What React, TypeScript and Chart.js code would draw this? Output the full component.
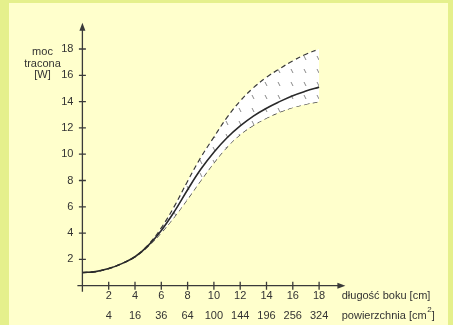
import React, { useEffect, useRef } from 'react';
import { Chart, registerables } from 'chart.js';

Chart.register(...registerables);

// ---- data ----
const sideLength = [0, 1, 2, 3, 4, 5, 6, 7, 8, 9, 10, 11, 12, 13, 14, 15, 16, 17, 18];
const centerPower = [1.0, 1.07, 1.3, 1.68, 2.2, 3.05, 4.2, 5.65, 7.3, 8.85, 10.15, 11.25, 12.15, 12.9, 13.5, 14.0, 14.45, 14.8, 15.1];
const upperPower = [1.0, 1.07, 1.3, 1.68, 2.2, 3.1, 4.4, 6.05, 7.95, 9.75, 11.3, 12.8, 14.05, 15.05, 15.85, 16.5, 17.1, 17.6, 18.0];
const lowerPower = [1.0, 1.07, 1.3, 1.68, 2.2, 3.0, 4.05, 5.25, 6.6, 8.0, 9.35, 10.55, 11.5, 12.2, 12.75, 13.2, 13.55, 13.8, 14.0];

const lengthTicks = [2, 4, 6, 8, 10, 12, 14, 16, 18];
const areaTickLabels = ['4', '16', '36', '64', '100', '144', '196', '256', '324'];
const powerTicks = [2, 4, 6, 8, 10, 12, 14, 16, 18];

const yTitleLines = ['moc', 'tracona', '[W]'];
const xTitle = 'długość boku [cm]';
const x2TitleMain = 'powierzchnia [cm';
const x2TitleSup = '2';
const x2TitleEnd = ']';

const FAMILY = '"Liberation Sans", Arial, Helvetica, sans-serif';
const TEXT = '#333333';
const AXIS = '#3a3a3a';

function makePattern(): CanvasPattern | string {
  const pc = document.createElement('canvas');
  pc.width = 13;
  pc.height = 13;
  const c = pc.getContext('2d');
  if (!c) return '#ffffff';
  c.fillStyle = '#ffffff';
  c.fillRect(0, 0, 13, 13);
  c.strokeStyle = '#8a8a8a';
  c.lineWidth = 1;
  c.beginPath();
  c.moveTo(5, 4);
  c.lineTo(7, 8);
  c.stroke();
  const p = c.createPattern(pc, 'repeat');
  return p || '#ffffff';
}

const axesPlugin = {
  id: 'customAxes',
  beforeDatasetsDraw(chart: any) {
    const { ctx, scales } = chart;
    const x = scales.x;
    const y = scales.y;
    const x0 = x.getPixelForValue(0);
    const y0 = y.getPixelForValue(0);
    const xEnd = x.getPixelForValue(20);
    const yEnd = y.getPixelForValue(20);
    ctx.save();
    ctx.strokeStyle = AXIS;
    ctx.fillStyle = AXIS;
    ctx.lineWidth = 1.3;
    ctx.beginPath();
    ctx.moveTo(x0, y0 + 6);
    ctx.lineTo(x0, yEnd + 6);
    ctx.moveTo(x0 - 5, y0);
    ctx.lineTo(xEnd - 6, y0);
    lengthTicks.forEach((v) => {
      const px = x.getPixelForValue(v);
      ctx.moveTo(px, y0 - 4);
      ctx.lineTo(px, y0 + 4);
    });
    powerTicks.forEach((v) => {
      const py = y.getPixelForValue(v);
      ctx.moveTo(x0 - 3.5, py);
      ctx.lineTo(x0 + 3.5, py);
    });
    ctx.stroke();
    ctx.beginPath();
    ctx.moveTo(x0, yEnd);
    ctx.lineTo(x0 - 3, yEnd + 8);
    ctx.lineTo(x0 + 3, yEnd + 8);
    ctx.closePath();
    ctx.fill();
    ctx.beginPath();
    ctx.moveTo(xEnd, y0);
    ctx.lineTo(xEnd - 8, y0 - 3);
    ctx.lineTo(xEnd - 8, y0 + 3);
    ctx.closePath();
    ctx.fill();

    // titles
    ctx.fillStyle = TEXT;
    ctx.font = '11px ' + FAMILY;
    ctx.textBaseline = 'middle';
    ctx.textAlign = 'center';
    const y18 = y.getPixelForValue(18);
    yTitleLines.forEach((t, i) => {
      ctx.fillText(t, 42.5, y18 + 3 + i * 11.6);
    });
    ctx.textAlign = 'left';
    const tx = xEnd - 3.7;
    ctx.fillText(xTitle, tx, y0 + 10.6);
    ctx.fillText(x2TitleMain, tx, y0 + 30.5);
    const w = ctx.measureText(x2TitleMain).width;
    ctx.font = '8px ' + FAMILY;
    ctx.fillText(x2TitleSup, tx + w + 0.5, y0 + 24.5);
    const w2 = ctx.measureText(x2TitleSup).width;
    ctx.font = '11px ' + FAMILY;
    ctx.fillText(x2TitleEnd, tx + w + w2 + 0.5, y0 + 30.5);
    ctx.restore();
  },
};

export default function App() {
  const ref = useRef<HTMLCanvasElement>(null);

  useEffect(() => {
    document.body.style.margin = '0';
    const canvas = ref.current;
    if (!canvas) return;
    const pattern = makePattern();
    const toPts = (arr: number[]) => sideLength.map((s, i) => ({ x: s, y: arr[i] }));
    const tickFont = { family: FAMILY, size: 11 };
    const chart = new Chart(canvas, {
      type: 'line',
      data: {
        datasets: [
          {
            label: 'moc tracona',
            data: toPts(centerPower),
            borderColor: '#2a2a2a',
            borderWidth: 1.6,
            pointRadius: 0,
            tension: 0.4,
            fill: false,
          },
          {
            label: 'max',
            data: toPts(upperPower),
            borderColor: '#3a3a3a',
            borderWidth: 1.2,
            borderDash: [5, 3.5],
            pointRadius: 0,
            tension: 0.4,
            fill: '+1',
            backgroundColor: pattern as any,
          },
          {
            label: 'min',
            data: toPts(lowerPower),
            borderColor: '#3a3a3a',
            borderWidth: 1.2,
            borderDash: [5, 3.5],
            pointRadius: 0,
            tension: 0.4,
            fill: false,
          },
        ],
      },
      options: {
        animation: false,
        responsive: false,
        devicePixelRatio: 1,
        layout: { padding: { left: 0, top: 22.7, right: 107.6, bottom: 0 } },
        plugins: { legend: { display: false }, tooltip: { enabled: false } },
        scales: {
          x: {
            type: 'linear',
            position: 'bottom',
            weight: 0,
            min: 0,
            max: 20,
            grid: { display: false, drawTicks: false },
            border: { display: false },
            afterBuildTicks: (s: any) => {
              s.ticks = lengthTicks.map((v) => ({ value: v }));
            },
            afterFit: (s: any) => {
              s.height = 20;
            },
            ticks: {
              autoSkip: false,
              maxRotation: 0,
              padding: 4,
              color: TEXT,
              font: tickFont,
              callback: (v: any) => String(v),
            },
          },
          x2: {
            type: 'linear',
            position: 'bottom',
            weight: 1,
            min: 0,
            max: 20,
            grid: { display: false, drawTicks: false },
            border: { display: false },
            afterBuildTicks: (s: any) => {
              s.ticks = lengthTicks.map((v) => ({ value: v }));
            },
            afterFit: (s: any) => {
              s.height = 19.3;
            },
            ticks: {
              autoSkip: false,
              maxRotation: 0,
              padding: 3.7,
              color: TEXT,
              font: tickFont,
              callback: (v: any) => {
                const i = lengthTicks.indexOf(Number(v));
                return i >= 0 ? areaTickLabels[i] : '';
              },
            },
          },
          y: {
            type: 'linear',
            min: 0,
            max: 20,
            grid: { display: false, drawTicks: false },
            border: { display: false },
            afterBuildTicks: (s: any) => {
              s.ticks = powerTicks.map((v) => ({ value: v }));
            },
            afterFit: (s: any) => {
              s.width = 82.4;
            },
            ticks: {
              autoSkip: false,
              padding: 9,
              color: TEXT,
              font: tickFont,
              callback: (v: any) => String(v),
            },
          },
        },
      },
      plugins: [axesPlugin],
    } as any);
    return () => chart.destroy();
  }, []);

  return (
    <div style={{ position: 'fixed', left: 0, top: 0, width: 453, height: 325, background: '#e5f08c', overflow: 'hidden' }}>
      <div style={{ position: 'absolute', left: 9, top: 3, width: 439, height: 322, background: '#ffffcc' }} />
      <canvas ref={ref} width={453} height={325} style={{ position: 'absolute', left: 0, top: 0, width: 453, height: 325 }} />
    </div>
  );
}
